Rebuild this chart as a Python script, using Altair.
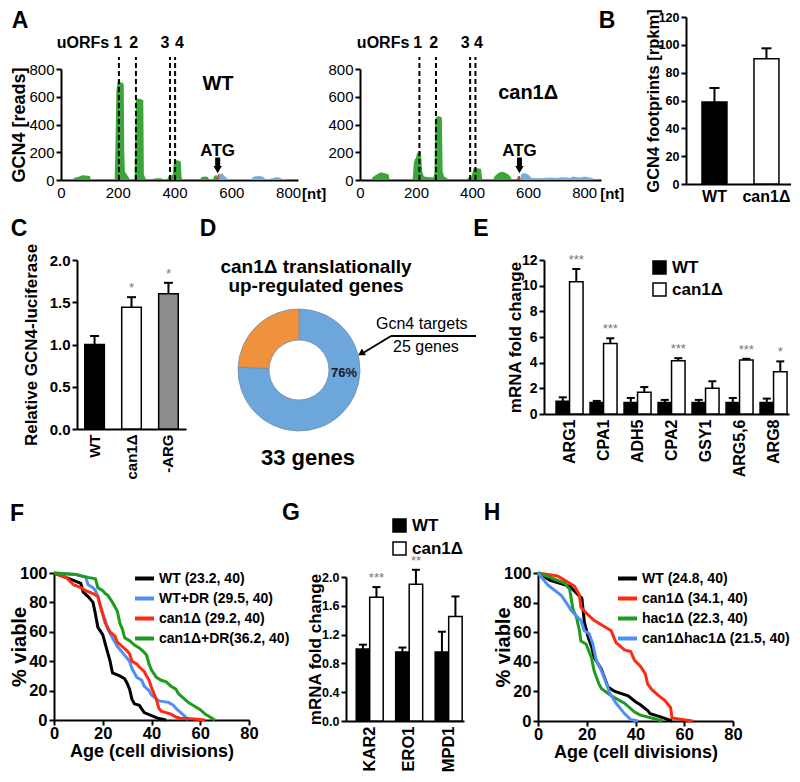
import altair as alt
import pandas as pd

FONT = "Liberation Sans"

# ---------------- Panel A: GCN4 footprint profiles (nt, reads) ----------------
A_WT_GREEN = [(40, 0), (45, 15), (55, 20), (65, 25), (75, 35), (85, 32), (95, 30), (102, 28), (105, 0),
              (189, 0), (192, 250), (195, 640), (199, 705), (206, 715), (212, 700), (216, 705), (221, 690),
              (223, 200), (225, 60), (232, 40), (238, 20), (242, 5), (246, 0),
              (259, 0), (261, 300), (264, 585), (275, 585), (285, 580), (290, 575), (292, 40), (298, 10), (302, 0),
              (318, 0), (322, 8), (335, 12), (350, 12), (360, 8), (365, 0),
              (374, 0), (378, 25), (388, 35), (394, 40), (397, 120), (400, 145), (412, 140), (422, 135),
              (425, 20), (428, 0), (490, 0), (494, 20), (505, 25), (518, 22), (522, 0),
              (535, 0), (540, 30), (550, 35), (554, 0)]
A_WT_RED = [(550, 0), (553, 40), (558, 45), (561, 0)]
A_WT_BLUE = [(556, 0), (560, 40), (568, 50), (575, 30), (585, 10), (600, 5), (650, 3), (670, 8), (680, 25),
             (695, 28), (710, 25), (718, 10), (730, 5), (745, 12), (755, 20), (770, 18), (780, 8), (800, 3), (810, 0)]
A_CAN1_GREEN = [(40, 0), (45, 20), (55, 35), (65, 45), (75, 55), (85, 50), (95, 45), (102, 40), (106, 0),
                (188, 0), (192, 120), (196, 150), (200, 160), (204, 200), (210, 190), (217, 210), (222, 60),
                (228, 25), (245, 20), (262, 18), (266, 60), (268, 420), (272, 455), (282, 460), (292, 450),
                (295, 60), (300, 25), (310, 15), (318, 0),
                (380, 0), (385, 15), (398, 25), (402, 60), (405, 85), (420, 85), (432, 80), (436, 10), (440, 0),
                (475, 0), (480, 25), (490, 45), (500, 55), (510, 60), (520, 50), (530, 40), (538, 20), (542, 0),
                (555, 0), (560, 10), (564, 0)]
A_CAN1_RED = [(560, 0), (563, 25), (570, 30), (575, 0)]
A_CAN1_BLUE = [(572, 0), (575, 40), (585, 50), (595, 45), (605, 30), (612, 15), (640, 12), (680, 18), (700, 15),
               (720, 20), (740, 18), (750, 15), (760, 25), (775, 20), (790, 18), (800, 25), (815, 20), (830, 15), (835, 0)]
A_WT_UORF_NT = [204, 264, 384, 402]
A_CAN1_UORF_NT = [212, 271, 393, 412]
A_WT_UORF_LABEL_NT = [200, 256, 366, 417]
A_CAN1_UORF_LABEL_NT = [206, 263, 375, 423]
A_UORF_LABELS = ["1", "2", "3", "4"]
A_WT_ATG_NT = 552
A_CAN1_ATG_NT = 569

# ---------------- Panel B ----------------
B_STRAINS = ["WT", "can1Δ"]
B_MEAN = [59, 90]
B_SEM = [10, 7.5]
B_FILL = ["black", "white"]

# ---------------- Panel C ----------------
C_STRAINS = ["WT", "can1Δ", "-ARG"]
C_MEAN = [1.00, 1.44, 1.60]
C_SEM = [0.10, 0.12, 0.13]
C_STARS = ["", "*", "*"]
C_FILL = ["black", "white", "#8c8c8c"]

# ---------------- Panel D ----------------
D_CATEGORIES = ["Gcn4 targets", "other"]
D_GENES = [25, 8]

# ---------------- Panel E ----------------
E_GENES = ["ARG1", "CPA1", "ADH5", "CPA2", "GSY1", "ARG5,6", "ARG8"]
E_WT = [1.0, 0.9, 0.9, 0.9, 0.9, 0.9, 0.9]
E_WT_SEM = [0.3, 0.12, 0.35, 0.2, 0.2, 0.35, 0.3]
E_CAN1 = [10.3, 5.5, 1.7, 4.15, 2.0, 4.2, 3.3]
E_CAN1_SEM = [1.0, 0.4, 0.4, 0.2, 0.55, 0.1, 0.8]
E_STARS = ["***", "***", "", "***", "", "***", "*"]

# ---------------- Panel G ----------------
G_GENES = ["KAR2", "ERO1", "MPD1"]
G_WT = [1.0, 0.96, 0.96]
G_WT_SEM = [0.06, 0.06, 0.28]
G_CAN1 = [1.72, 1.9, 1.45]
G_CAN1_SEM = [0.14, 0.2, 0.28]
G_STARS = ["***", "**", ""]

STRAINS2 = ["WT", "can1Δ"]

# ---------------- Panel F ----------------
F_SERIES = ["WT (23.2, 40)", "WT+DR (29.5, 40)", "can1Δ (29.2, 40)", "can1Δ+DR(36.2, 40)"]
F_COLORS = ["#000000", "#4f8ef7", "#ff2a12", "#1e9a1e"]
F_WT_AGE = [0, 8, 11, 12, 14, 16, 17, 18, 20, 21, 22, 23, 24, 27, 29, 30, 31, 32, 33, 35, 37, 40, 43, 46]
F_WT_PCT = [100, 95, 93, 87, 84, 80, 72, 63, 58, 52, 46, 40, 32, 30, 28, 25, 21, 14, 11, 10, 5, 3, 1, 0]
F_WTDR_AGE = [0, 9, 13, 14, 16, 17, 18, 19, 20, 21, 22, 24, 26, 28, 30, 31, 32, 33, 34, 36, 37, 39, 40, 43, 47, 49, 50, 52, 54, 55]
F_WTDR_PCT = [100, 99, 97, 92, 90, 88, 84, 77, 72, 68, 62, 56, 50, 46, 42, 40, 35, 32, 29, 27, 23, 20, 17, 13, 12, 10, 8, 5, 2, 0]
F_CAN1_AGE = [0, 5, 8, 11, 13, 16, 18, 19, 20, 21, 22, 23, 25, 26, 28, 30, 31, 32, 34, 35, 37, 38, 39, 40, 41, 42, 43, 44, 46, 48, 50, 52, 55, 62]
F_CAN1_PCT = [100, 97, 92, 90, 88, 86, 84, 78, 72, 66, 63, 60, 57, 53, 50, 47, 45, 40, 38, 36, 33, 30, 27, 22, 18, 14, 8, 6, 5, 4, 2, 1, 1, 0]
F_CAN1DR_AGE = [0, 9, 14, 17, 18, 20, 21, 22, 24, 26, 27, 28, 29, 31, 33, 35, 37, 38, 39, 40, 42, 44, 46, 48, 50, 51, 53, 55, 57, 58, 60, 62, 64, 66]
F_CAN1DR_PCT = [100, 99, 97, 96, 90, 88, 86, 85, 80, 74, 66, 62, 56, 54, 51, 49, 46, 44, 38, 34, 29, 27, 26, 23, 21, 18, 15, 12, 10, 9, 7, 4, 2, 0]

# ---------------- Panel H ----------------
H_SERIES = ["WT (24.8, 40)", "can1Δ (34.1, 40)", "hac1Δ (22.3, 40)", "can1Δhac1Δ (21.5, 40)"]
H_COLORS = ["#000000", "#ff2a12", "#1e9a1e", "#4f8ef7"]
H_WT_AGE = [0, 5, 13, 16, 18, 18.5, 19, 20.5, 22, 23, 26, 28.7, 31.5, 37, 40, 42, 45, 46, 50, 55]
H_WT_PCT = [100, 95, 91, 86, 83, 75, 67, 57, 50, 43, 35, 23, 20, 17, 13, 11, 7, 5, 3, 0]
H_CAN1_AGE = [0, 8, 11, 15, 17, 17.6, 19.7, 23, 27, 30, 32, 35.5, 38, 39.6, 42, 44, 45, 46.8, 49.6, 52, 54.4, 55, 59, 63.6]
H_CAN1_PCT = [100, 98, 95, 91, 85, 77, 73, 68, 64, 61, 53, 48, 47, 41, 37, 32, 25, 21, 17, 14, 9, 2, 1, 0]
H_HAC1_AGE = [0, 5, 11, 13, 14.4, 15.8, 17, 17.6, 19.7, 21.9, 23, 25, 26, 30, 35.5, 39.6, 42, 49, 51]
H_HAC1_PCT = [100, 97, 93, 89, 75, 70, 61, 54, 52, 43, 34, 25, 22, 17, 12, 6, 4, 1, 0]
H_CH_AGE = [0, 4, 9.5, 12, 13.5, 16.3, 17.6, 19, 21, 22.5, 23.9, 26, 28.4, 29.4, 32, 35.5, 38, 41]
H_CH_PCT = [100, 92, 85, 79, 75, 70, 68, 61, 59, 52, 41, 34, 24, 19, 12, 5, 1, 0]


# ---------------- helpers ----------------
def dot(x, y):
    return alt.Chart(pd.DataFrame({"v": [0]})).mark_point(opacity=0, size=1).encode(
        x=alt.value(x), y=alt.value(y))


def spacer(w, h=1, marks=()):
    layers = [dot(0, 0)] + [dot(mx, my) for mx, my in marks]
    return alt.layer(*layers).properties(width=w, height=h)


def note(text, x, y, size, weight="bold", align="center", baseline="middle", color="black"):
    return alt.Chart(pd.DataFrame({"t": [text]})).mark_text(
        align=align, baseline=baseline, fontSize=size, fontWeight=weight, font=FONT, color=color
    ).encode(x=alt.value(x), y=alt.value(y), text="t:N")


def yaxis(values, title, tx, label_size, title_size, fmt=None, **kw):
    args = dict(values=values, title=title, labelFontSize=label_size, titleFontSize=title_size,
                labelPadding=2, titleX=tx, titleBaseline="middle")
    if fmt:
        args["format"] = fmt
    args.update(kw)
    return alt.Axis(**args)


def panel_a(green, red, blue, lines, lab_x, atg, strain, strain_nt, strain_reads, dmax, width, ytitle, nt_x, letter):
    xs = alt.Scale(domain=[0, dmax], nice=False, zero=True)
    ys = alt.Scale(domain=[0, 800], nice=False, range=[163, 52])
    xax = alt.Axis(values=[0, 200, 400, 600, 800], labelFontWeight="normal", labelFontSize=15,
                   ticks=False, title=None, labelPadding=5, labelFlush=False)
    if ytitle:
        yax = yaxis([0, 200, 400, 600, 800], ytitle, -42, 15, 18, labelFontWeight="normal")
    else:
        yax = alt.Axis(values=[0, 200, 400, 600, 800], title=None, labelFontSize=15, labelPadding=2,
                       labelFontWeight="normal")
    X = lambda f: alt.X(f, scale=xs, axis=xax)
    Y = lambda f: alt.Y(f, scale=ys, axis=yax)

    def area(series, color):
        df = pd.DataFrame(series, columns=["nt", "reads"])
        return alt.Chart(df).mark_area(color=color, opacity=1).encode(x=X("nt:Q"), y=Y("reads:Q"))

    ldf = pd.DataFrame({"nt": lines, "y0": [0] * len(lines), "y1": [886] * len(lines)})
    dashed = alt.Chart(ldf).mark_rule(strokeDash=[5, 3], strokeWidth=2, color="black").encode(
        x=X("nt:Q"), y=Y("y0:Q"), y2="y1:Q")
    labdf = pd.DataFrame({"nt": lab_x, "t": A_UORF_LABELS, "y": [987] * 4})
    labs = alt.Chart(labdf).mark_text(fontSize=16, fontWeight="bold", font=FONT).encode(
        x=X("nt:Q"), y=Y("y:Q"), text="t:N")
    udf = pd.DataFrame({"nt": [lab_x[0] - 30], "t": ["uORFs"], "y": [987]})
    ulab = alt.Chart(udf).mark_text(fontSize=16, fontWeight="bold", font=FONT, align="right").encode(
        x=X("nt:Q"), y=Y("y:Q"), text="t:N")
    adf = pd.DataFrame({"nt": [atg], "y0": [92], "y1": [162], "yh": [74], "yt": [210], "t": ["ATG"]})
    shaft = alt.Chart(adf).mark_rule(strokeWidth=5, color="black").encode(x=X("nt:Q"), y=Y("y0:Q"), y2="y1:Q")
    head = alt.Chart(adf).mark_point(shape="triangle-down", filled=True, color="black", size=70, opacity=1).encode(
        x=X("nt:Q"), y=Y("yh:Q"))
    atgt = alt.Chart(adf).mark_text(fontSize=17, fontWeight="bold", font=FONT).encode(
        x=X("nt:Q"), y=Y("yt:Q"), text="t:N")
    sdf = pd.DataFrame({"nt": [strain_nt], "y": [strain_reads], "t": [strain]})
    st = alt.Chart(sdf).mark_text(fontSize=20, fontWeight="bold", font=FONT).encode(
        x=X("nt:Q"), y=Y("y:Q"), text="t:N")
    ndf = pd.DataFrame({"nt": [nt_x], "y": [0], "t": ["[nt]"]})
    nt = alt.Chart(ndf).mark_text(fontSize=15, fontWeight="bold", font=FONT, dy=14).encode(
        x=X("nt:Q"), y=Y("y:Q"), text="t:N")
    layers = [area(green, "#3aa63a"), area(red, "#d9352b"), area(blue, "#74ade0"), dashed, labs, ulab,
              shaft, head, atgt, st, nt]
    if letter:
        layers.append(note("A", -41, 4, 23))
    return alt.layer(*layers).properties(width=width, height=163)


def err_layers(df, X, Y, xoff=None, cap=10):
    enc = dict(x=X)
    if xoff is not None:
        enc["xOffset"] = xoff
    rule = alt.Chart(df).mark_rule(strokeWidth=2, color="black").encode(y=Y("value:Q"), y2="top:Q", **enc)
    tick = alt.Chart(df).mark_tick(size=cap, thickness=2, color="black", opacity=1).encode(y=Y("top:Q"), **enc)
    return [rule, tick]


# ---------------- Panel B chart ----------------
def panel_b():
    df = pd.DataFrame({"strain": B_STRAINS, "value": B_MEAN,
                       "top": [m + s for m, s in zip(B_MEAN, B_SEM)], "fill": B_FILL})
    X = alt.X("strain:N", sort=B_STRAINS, scale=alt.Scale(paddingInner=0.52, paddingOuter=0.27, align=0.57),
              axis=alt.Axis(labelAngle=0, ticks=False, title=None, labelFontSize=16, labelPadding=4))
    ys = alt.Scale(domain=[0, 120], nice=False)
    yax = yaxis(list(range(0, 121, 20)), "GCN4 footprints [rpkm]", -33, 12.5, 16.5)
    Y = lambda f: alt.Y(f, scale=ys, axis=yax)
    bars = alt.Chart(df).mark_bar(stroke="black", strokeWidth=1.5).encode(
        x=X, y=Y("value:Q"), fill=alt.Fill("fill:N", scale=None))
    return alt.layer(*err_layers(df, X, Y), bars, note("B", -79, 4, 23)).properties(width=105, height=167)


# ---------------- Panel C chart ----------------
def panel_c():
    df = pd.DataFrame({"strain": C_STRAINS, "value": C_MEAN,
                       "top": [m + s for m, s in zip(C_MEAN, C_SEM)], "fill": C_FILL, "star": C_STARS})
    X = alt.X("strain:N", sort=C_STRAINS, scale=alt.Scale(paddingInner=0.47, paddingOuter=0.21),
              axis=alt.Axis(labelAngle=-90, ticks=False, title=None, labelFontSize=15, labelPadding=5))
    ys = alt.Scale(domain=[0, 2], nice=False)
    yax = yaxis([0, 0.5, 1.0, 1.5, 2.0], "Relative GCN4-luciferase", -46, 15, 17, fmt=".1f")
    Y = lambda f: alt.Y(f, scale=ys, axis=yax)
    bars = alt.Chart(df).mark_bar(stroke="black", strokeWidth=1.5).encode(
        x=X, y=Y("value:Q"), fill=alt.Fill("fill:N", scale=None))
    stars = alt.Chart(df).mark_text(dy=-9, fontSize=13, color="#777777", font=FONT).encode(
        x=X, y=Y("top:Q"), text="star:N")
    return alt.layer(*err_layers(df, X, Y, cap=9), bars, stars, note("C", -58, -31, 23)).properties(
        width=109, height=169)


# ---------------- Panel D chart ----------------
def panel_d():
    df = pd.DataFrame({"cat": D_CATEGORIES, "genes": D_GENES, "k": [0, 1]})
    arc = alt.Chart(df).mark_arc(radius=61, radius2=30, stroke="#6f8fb0", strokeWidth=0.8).encode(
        theta=alt.Theta("genes:Q", stack=True),
        color=alt.Color("cat:N", scale=alt.Scale(domain=D_CATEGORIES, range=["#6ca6db", "#f0913e"]), legend=None),
        order=alt.Order("k:Q"), x=alt.value(103), y=alt.value(110))
    pct = f"{round(100 * D_GENES[0] / sum(D_GENES))}%"
    arrow_line = alt.Chart(pd.DataFrame({"v": [0]})).mark_rule(strokeWidth=2, color="black").encode(
        x=alt.value(195), x2=alt.value(280), y=alt.value(76))
    arrow_diag = alt.Chart(pd.DataFrame({"v": [0]})).mark_rule(strokeWidth=2, color="black").encode(
        x=alt.value(195), x2=alt.value(167), y=alt.value(76), y2=alt.value(93))
    arrow_head = alt.Chart(pd.DataFrame({"v": [0]})).mark_point(
        shape="triangle", angle=239, filled=True, color="black", size=60, opacity=1).encode(
        x=alt.value(166), y=alt.value(93))
    layers = [arc,
              note(pct, 148, 113, 13, color="#1a1a2a"),
              note("can1Δ translationally", 120, 7, 19),
              note("up-regulated genes", 120, 26, 19),
              note(f"{sum(D_GENES)} genes", 112, 198, 22),
              note(f"{D_CATEGORIES[0]}", 180, 64, 16, weight="normal", align="left"),
              note(f"{D_GENES[0]} genes", 197, 87, 16, weight="normal", align="left"),
              arrow_line, arrow_diag, arrow_head,
              note("D", 12, -31, 23)]
    return alt.layer(*layers).properties(width=280, height=169)


# ---------------- grouped bars (E, G) ----------------
def grouped(genes, wt, wt_sem, can1, can1_sem, stars, width, height, yrange, ydom, yvals, tx, ylab_size,
            lab_size, letter, lx, ly, legx, legy, rowpad, scale_kw):
    rows = []
    for g, a, b, c, d, s in zip(genes, wt, wt_sem, can1, can1_sem, stars):
        rows.append({"gene": g, "strain": "WT", "value": a, "top": a + b, "star": ""})
        rows.append({"gene": g, "strain": "can1Δ", "value": c, "top": c + d, "star": s})
    df = pd.DataFrame(rows)
    X = alt.X("gene:N", sort=genes, scale=alt.Scale(**scale_kw),
              axis=alt.Axis(labelAngle=-90, ticks=False, title=None, labelFontSize=lab_size, labelPadding=5))
    XO = alt.XOffset("strain:N", sort=STRAINS2, scale=alt.Scale(paddingInner=0, paddingOuter=0))
    ys = alt.Scale(domain=ydom, nice=False, range=yrange)
    yax = yaxis(yvals, "mRNA fold change", tx, ylab_size, 17, fmt=".1f" if ydom[1] <= 2 else "d")
    Y = lambda f: alt.Y(f, scale=ys, axis=yax)
    bars = alt.Chart(df).mark_bar(stroke="black", strokeWidth=1.5).encode(
        x=X, xOffset=XO, y=Y("value:Q"),
        fill=alt.Fill("strain:N", scale=alt.Scale(domain=STRAINS2, range=["black", "white"]),
                      legend=alt.Legend(title=None, orient="none", legendX=legx, legendY=legy,
                                        symbolType="square", symbolSize=169, symbolStrokeColor="black",
                                        symbolStrokeWidth=1.5, labelFontSize=17, labelFontWeight="bold",
                                        rowPadding=rowpad, padding=0, labelOffset=4)))
    st = alt.Chart(df).mark_text(dy=-9, fontSize=13, color="#777777", font=FONT).encode(
        x=X, xOffset=XO, y=Y("top:Q"), text="star:N")
    return alt.layer(*err_layers(df, X, Y, xoff=XO, cap=8), bars, st, note(letter, lx, ly, 23)).properties(
        width=width, height=height)


# ---------------- survival (F, H) ----------------
def survival(names, ages, pcts, colors, width, height, letter, lx, ly, legx, legy):
    rows = []
    for s, a_list, p_list in zip(names, ages, pcts):
        for i, (a, p) in enumerate(zip(a_list, p_list)):
            rows.append({"series": s, "age": a, "pct": p, "i": i})
    df = pd.DataFrame(rows)
    lines = alt.Chart(df).mark_line(strokeWidth=3).encode(
        x=alt.X("age:Q", scale=alt.Scale(domain=[0, 80], nice=False),
                axis=alt.Axis(values=[0, 20, 40, 60, 80], title="Age (cell divisions)", labelFontSize=16.5,
                              titleFontSize=18, labelPadding=0, labelFlush=False, titleY=31,
                              titleBaseline="middle")),
        y=alt.Y("pct:Q", scale=alt.Scale(domain=[0, 100], nice=False),
                axis=yaxis([0, 20, 40, 60, 80, 100], "% viable", -35, 16.5, 20)),
        color=alt.Color("series:N", scale=alt.Scale(domain=names, range=colors),
                        legend=alt.Legend(title=None, orient="none", legendX=legx, legendY=legy,
                                          symbolType="stroke", symbolSize=361, symbolStrokeWidth=4,
                                          labelFontSize=14, labelFontWeight="bold", rowPadding=0,
                                          padding=0, labelOffset=3, labelLimit=400)),
        order=alt.Order("i:Q"))
    return alt.layer(lines, note(letter, lx, ly, 23)).properties(width=width, height=height)


# ---------------- assemble ----------------
a_left = panel_a(A_WT_GREEN, A_WT_RED, A_WT_BLUE, A_WT_UORF_NT, A_WT_UORF_LABEL_NT, A_WT_ATG_NT,
                 "WT", 553, 690, 835, 237, "GCN4 [reads]", 892, True)
a_right = panel_a(A_CAN1_GREEN, A_CAN1_RED, A_CAN1_BLUE, A_CAN1_UORF_NT, A_CAN1_UORF_LABEL_NT, A_CAN1_ATG_NT,
                  "can1Δ", 600, 627, 860, 241, None, 900, False)

kw = dict(spacing=0, bounds="flush")
# each row starts at x=52 of the figure; invisible dots pin each row's outer bounds
row1 = alt.hconcat(spacer(8, 1, [(-42.5, -7.5), (-42.5, 194)]), a_left, spacer(62), a_right, spacer(85),
                   panel_b(), **kw)

panel_e = grouped(E_GENES, E_WT, E_WT_SEM, E_CAN1, E_CAN1_SEM, E_STARS, 245, 154, [154, 0], [0, 12],
                  [0, 2, 4, 6, 8, 10, 12], -29, 14, 16, "E", -63, -31, 107, -1, 3,
                  dict(paddingInner=0.206, paddingOuter=0.206, align=0.86))
row2 = alt.hconcat(spacer(24, 1, [(-42.5, -47), (-42.5, 229.5)]), panel_c(), spacer(10), panel_d(), spacer(68),
                   panel_e, **kw)

panel_g = grouped(G_GENES, G_WT, G_WT_SEM, G_CAN1, G_CAN1_SEM, G_STARS, 118, 148, [148, 4], [0, 2],
                  [0, 0.4, 0.8, 1.2, 1.6, 2.0], -31, 12.5, 16.5, "G", -55, -60, 45, -56, 4,
                  dict(paddingInner=0.316, paddingOuter=0.152, align=0.85))
panel_f = survival(F_SERIES, [F_WT_AGE, F_WTDR_AGE, F_CAN1_AGE, F_CAN1DR_AGE],
                   [F_WT_PCT, F_WTDR_PCT, F_CAN1_PCT, F_CAN1DR_PCT], F_COLORS, 195, 147, "F", -37, -59, 79, -6)
panel_h = survival(H_SERIES, [H_WT_AGE, H_CAN1_AGE, H_HAC1_AGE, H_CH_AGE],
                   [H_WT_PCT, H_CAN1_PCT, H_HAC1_PCT, H_CH_PCT], H_COLORS, 195, 148, "H", -46, -60, 78, -6)
row3 = alt.hconcat(spacer(1, 1, [(-42.5, -82), (-42.5, 197)]), panel_f, spacer(97), panel_g, spacer(74),
                   panel_h, **kw)

rows = []
for r in (row1, row2, row3):
    rows.append(r.resolve_scale(color="independent", fill="independent").resolve_legend(
        color="independent", fill="independent"))

chart = alt.vconcat(*rows, spacing=0).resolve_scale(color="independent", fill="independent").resolve_legend(
    color="independent", fill="independent")

chart = chart.properties(background="white", padding=0).configure_view(strokeWidth=0).configure_axis(
    domainColor="black", domainWidth=2, tickColor="black", tickWidth=2, tickSize=5,
    labelColor="black", titleColor="black", labelFont=FONT, titleFont=FONT,
    labelFontWeight="bold", titleFontWeight="bold", grid=False
).configure_legend(labelFont=FONT, labelColor="black")

chart.save("out.html", embed_options={"renderer": "svg", "actions": False})
